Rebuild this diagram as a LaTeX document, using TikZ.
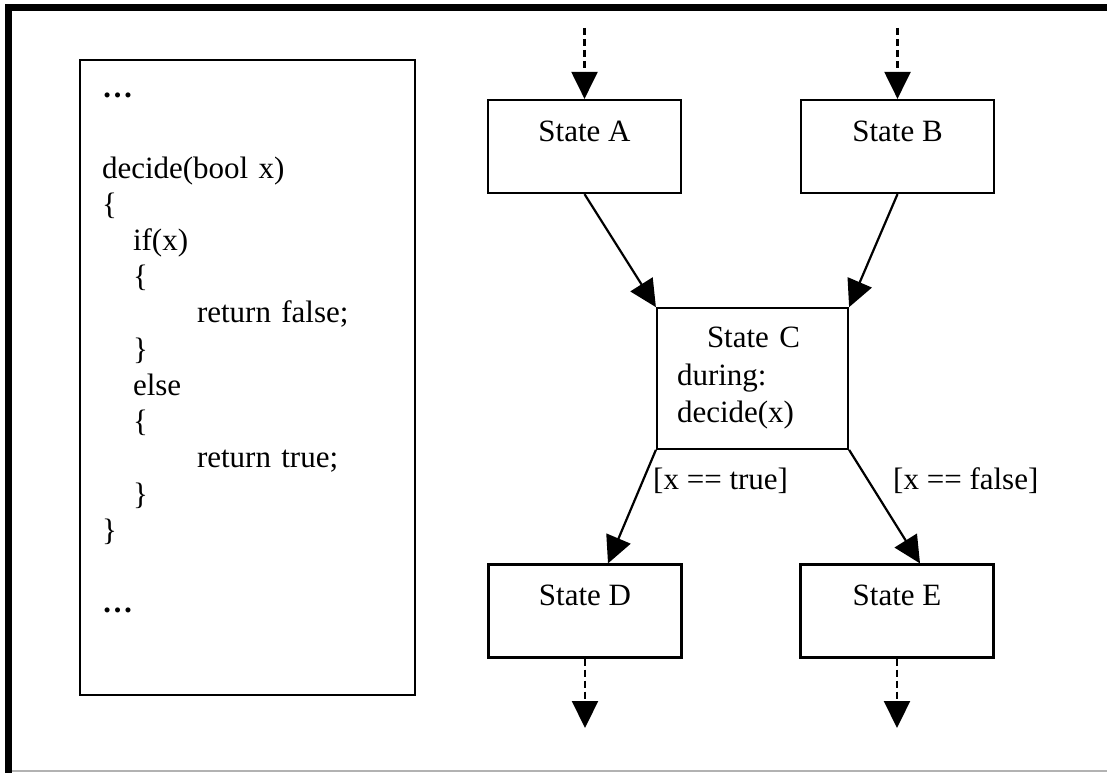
\documentclass[tikz,border=0pt]{standalone}
\usepackage{fontspec}
\setmainfont{Liberation Serif}
\usepackage{tikz}
\usetikzlibrary{arrows.meta}

\begin{document}
\begin{tikzpicture}[x=1pt, y=-1pt, font=\fontsize{31pt}{36.2pt}\selectfont]
    \tikzstyle{st} = [draw=black, line width=2.2pt, minimum width=193, minimum height=93,
                      inner sep=0pt, text height=41pt, text depth=52pt];
    \tikzstyle{ext} = [dash pattern=on 7pt off 4pt];
    \useasboundingbox (0,0) rectangle (1107,773);

    % frame
    \fill[black] (5,4) rectangle (1107,10.7);
    \fill[black] (5,4) rectangle (12.3,773);
    \draw[gray!60, line width=1.5pt] (12.3,771) -- (1107,771);

    % code
    \node (code) at (247.5,377.5) [draw=black, line width=2.2pt, minimum width=335, minimum height=635,
                                   inner xsep=22pt, inner ysep=0pt, text width=291pt, align=left,
                                   text height=38pt, text depth=597pt] {%
      \textbf{…}\\[44pt]
      decide(bool x)\\
      \{\\
      \hspace*{31pt}if(x)\\
      \hspace*{31pt}\{\\
      \hspace*{95pt}return false;\\
      \hspace*{31pt}\}\\
      \hspace*{31pt}else\\
      \hspace*{31pt}\{\\
      \hspace*{95pt}return true;\\
      \hspace*{31pt}\}\\
      \}\\[36pt]
      \textbf{…}};

    % states
    \node (s_a) at (584.5, 146.5) [st] {State A};
    \node (s_b) at (897.5, 146.5) [st] {State B};
    \node (s_c) at (752.5, 378.5) [draw=black, line width=2.2pt, minimum width=191, minimum height=140.5,
                                   inner xsep=20pt, inner ysep=0pt, text width=151pt, align=left,
                                   font=\fontsize{31pt}{37.5pt}\selectfont]
          {\hspace*{30pt}State C\\during:\\decide(x)};
    \node (s_d) at (585, 611) [st] {State D};
    \node (s_e) at (897, 611) [st] {State E};

    \node (g_t) at (653, 489) [anchor=base west, inner sep=0pt] {[x == true]};
    \node (g_f) at (893, 489) [anchor=base west, inner sep=0pt] {[x == false]};

    \coordinate (in_a)  at (584.5, 28);
    \coordinate (in_b)  at (897.5, 28);
    \coordinate (out_d) at (585, 728);
    \coordinate (out_e) at (897, 728);

    \begin{scope}[-{Triangle[length=27pt, width=26pt]}, line width=2.2pt]
      \draw[ext] (in_a) -- (s_a);
      \draw[ext] (in_b) -- (s_b);
      \draw[ext] (s_d) -- (out_d);
      \draw[ext] (s_e) -- (out_e);

      \draw (s_a.south) -- (s_c.north west);
      \draw (s_b.south) -- (s_c.north east);
      \draw (s_c.south west) -- ([xshift=23pt]s_d.north);
      \draw (s_c.south east) -- ([xshift=23pt]s_e.north);
    \end{scope}
\end{tikzpicture}
\end{document}
